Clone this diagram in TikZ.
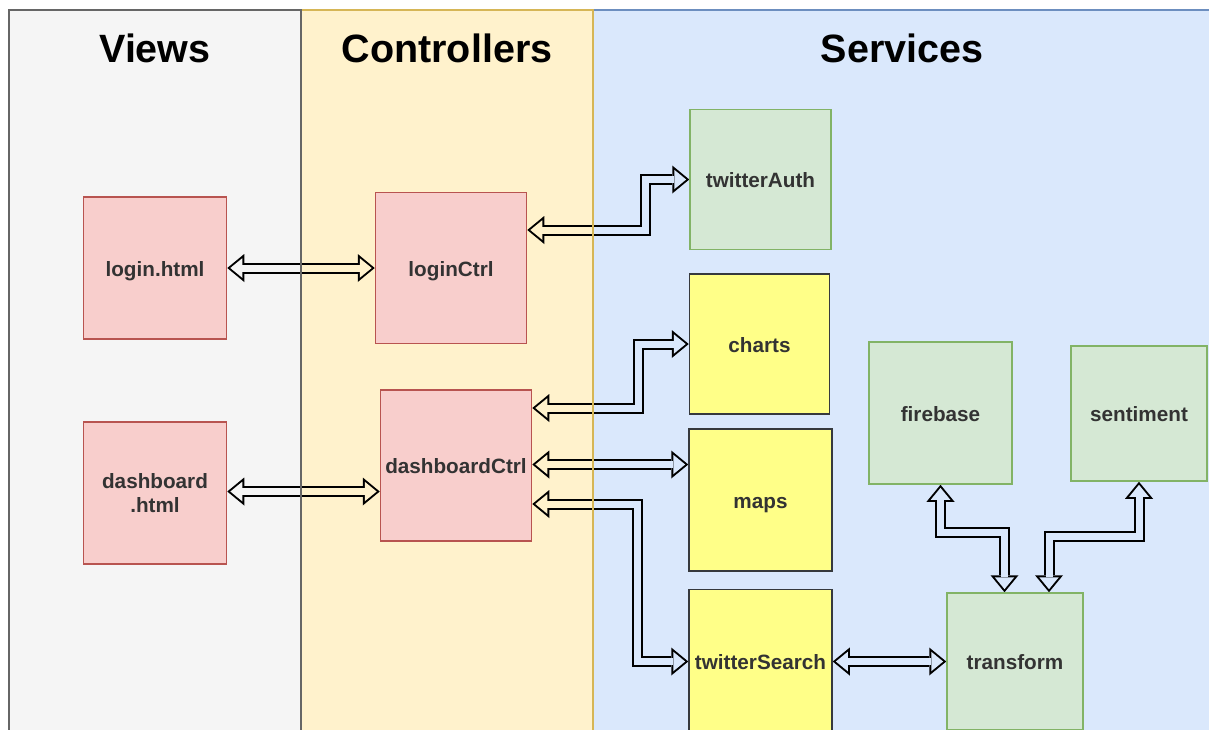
\documentclass[tikz,border=0pt]{standalone}
\usepackage{fontspec}
\setmainfont{Liberation Sans}
\usetikzlibrary{arrows.meta, backgrounds}

\definecolor{viewsfill}{HTML}{F5F5F5}
\definecolor{viewsline}{HTML}{666666}
\definecolor{ctrlfill}{HTML}{FFF2CC}
\definecolor{ctrlline}{HTML}{D6B656}
\definecolor{svcfill}{HTML}{DAE8FC}
\definecolor{svcline}{HTML}{6C8EBF}
\definecolor{pinkfill}{HTML}{F8CECC}
\definecolor{pinkline}{HTML}{B85450}
\definecolor{greenfill}{HTML}{D5E8D4}
\definecolor{greenline}{HTML}{82B366}
\definecolor{yellowfill}{HTML}{FFFF88}
\definecolor{yellowline}{HTML}{36393D}
\definecolor{txtgray}{HTML}{333333}

\tikzset{
	headout/.tip={Triangle[width=28pt,length=17pt,line width=0pt]},
	headin/.tip={Triangle[width=19.5pt,length=11.9pt,line width=0pt]},
	flexout/.style={black, line width=11pt, line join=miter, headout-headout},
	flexin/.style={white, line width=7pt, line join=miter, shorten <=3.1pt, shorten >=3.1pt, headin-headin},
	boxbase/.style={draw, line width=1.5pt, text=txtgray, inner sep=0pt, align=center,
		font=\fontsize{20.7}{24}\selectfont\bfseries},
	oneline/.style={text height=20.3pt, text depth=4.3pt},
	pinkbox/.style={boxbase, draw=pinkline, fill=pinkfill},
	greenbox/.style={boxbase, oneline, draw=greenline, fill=greenfill},
	yellowbox/.style={boxbase, oneline, draw=yellowline, fill=yellowfill},
	lanetitle/.style={anchor=base, text=black, font=\fontsize{39.5}{44}\selectfont\bfseries},
}

\newcommand{\flexarrow}[1]{\draw[flexout] #1; \draw[flexin] #1;}

\begin{document}
\begin{tikzpicture}[x=1pt, y=-1pt]
		\useasboundingbox (0,0) rectangle (1209,729);

		\node[lanetitle] at (155,62) (viewstitle) {Views};
		\node[lanetitle] at (447,62) (ctrltitle) {Controllers};
		\node[lanetitle] at (902,62) (svctitle) {Services};

		\node[pinkbox, oneline, minimum width=143pt, minimum height=142pt] at (155,268) (login) {login.html};
		\node[pinkbox, minimum width=143pt, minimum height=142pt] at (155,493) (dashboard) {dashboard\\.html};
		\node[pinkbox, oneline, minimum width=151pt, minimum height=151pt] at (451,268) (loginCtrl) {loginCtrl};
		\node[pinkbox, oneline, minimum width=151pt, minimum height=151pt] at (456,465.5) (dashboardCtrl) {dashboardCtrl};

		\node[greenbox, minimum width=141pt, minimum height=140pt] at (760.5,179.5) (twitterAuth) {twitterAuth};
		\node[yellowbox, minimum width=140pt, minimum height=140pt] at (759.5,344) (charts) {charts};
		\node[yellowbox, minimum width=143pt, minimum height=142pt] at (760.5,500) (maps) {maps};
		\node[yellowbox, minimum width=143pt, minimum height=144pt] at (760.5,661.5) (twitterSearch) {twitterSearch};
		\node[greenbox, minimum width=143pt, minimum height=142pt] at (940.5,413) (firebase) {firebase};
		\node[greenbox, minimum width=136pt, minimum height=135pt] at (1139,413.5) (sentiment) {sentiment};
		\node[greenbox, minimum width=136pt, minimum height=137pt] at (1015,661.5) (transform) {transform};

		\begin{scope}[on background layer]
			\fill[white] (0,0) rectangle (1209,729);

			\flexarrow{(login.east) -- (loginCtrl.west)}
			\flexarrow{([yshift=38pt]loginCtrl.east) -- ++(118,0) |- (twitterAuth.west)}
			\flexarrow{([yshift=1.5pt]dashboard.east) -- ([yshift=-26pt]dashboardCtrl.west)}
			\flexarrow{([yshift=57.5pt]dashboardCtrl.east) -- ++(106,0) |- (charts.west)}
			\flexarrow{([yshift=1pt]dashboardCtrl.east) -- ([yshift=35.5pt]maps.west)}
			\flexarrow{([yshift=-38.5pt]dashboardCtrl.east) -- ++(105.5,0) |- (twitterSearch.west)}
			\flexarrow{(twitterSearch.east) -- (transform.west)}
			\flexarrow{([xshift=-10.5pt]transform.north) -- ++(0,-59.5) -| (firebase.south)}
			\flexarrow{([xshift=34pt]transform.north) -- ++(0,-56) -| (sentiment.south)}

			\fill[svcfill, blend mode=multiply] (593,10) rectangle (1211,740);
			\fill[ctrlfill, blend mode=multiply] (301,10) rectangle (593,740);
			\fill[viewsfill, blend mode=multiply] (9,10) rectangle (301,740);

			\draw[svcline, line width=1.3pt] (593,10) rectangle (1211,740);
			\draw[ctrlline, line width=1.3pt] (301,10) rectangle (593,740);
			\draw[viewsline, line width=1.3pt] (9,10) rectangle (301,740);
		\end{scope}
\end{tikzpicture}
\end{document}
